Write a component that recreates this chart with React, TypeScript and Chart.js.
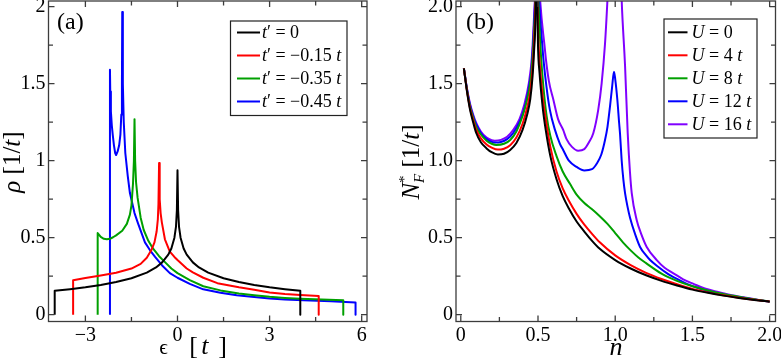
import React, { useEffect, useRef } from "react";
import { Chart, registerables } from "chart.js";

Chart.register(...registerables);

const SERIF = "'Liberation Serif', 'Times New Roman', Times, serif";

// ---------------- Panel (a): density of states rho(eps) ----------------
const tPrimeValues = ["0", "−0.15", "−0.35", "−0.45"];
const colorsA = ["#000000", "#ff0000", "#00a000", "#0000ff"];

const epsT0 = [-4, -4, -3.5, -3, -2.5, -2, -1.5, -1, -0.7, -0.5, -0.3, -0.2, -0.1, -0.05, -0.02, 0, 0.02, 0.05, 0.1, 0.2, 0.3, 0.5, 0.7, 1, 1.5, 2, 2.5, 3, 3.5, 4, 4];
const rhoT0 = [0, 0.156, 0.166, 0.178, 0.193, 0.212, 0.237, 0.273, 0.307, 0.34, 0.39, 0.43, 0.5, 0.57, 0.68, 0.938, 0.68, 0.57, 0.5, 0.43, 0.39, 0.34, 0.307, 0.273, 0.237, 0.212, 0.193, 0.178, 0.166, 0.156, 0];

const epsT15 = [-3.4, -3.4, -3, -2.5, -2, -1.5, -1.2, -1, -0.85, -0.75, -0.68, -0.64, -0.62, -0.6, -0.58, -0.55, -0.51, -0.41, -0.25, -0.1, 0, 0.3, 0.5, 0.84, 1.3, 2, 2.5, 3, 3.5, 4, 4.6, 4.6];
const rhoT15 = [0, 0.224, 0.238, 0.255, 0.272, 0.3, 0.33, 0.37, 0.42, 0.47, 0.54, 0.62, 0.72, 0.985, 0.75, 0.66, 0.6, 0.49, 0.41, 0.375, 0.355, 0.3, 0.275, 0.24, 0.205, 0.178, 0.162, 0.145, 0.135, 0.128, 0.121, 0];

const epsT35 = [-2.6, -2.6, -2.5, -2.4, -2.3, -2.2, -2.1, -2, -1.8, -1.65, -1.55, -1.5, -1.45, -1.42, -1.4, -1.38, -1.35, -1.3, -1.2, -1.1, -0.95, -0.8, -0.6, -0.4, -0.2, 0, 0.4, 0.84, 1.4, 2, 2.5, 3, 3.5, 4, 4.7, 5.4, 5.4];
const rhoT35 = [0, 0.53, 0.505, 0.493, 0.49, 0.493, 0.503, 0.515, 0.545, 0.59, 0.65, 0.71, 0.85, 1.0, 1.27, 1.0, 0.86, 0.76, 0.63, 0.55, 0.48, 0.43, 0.38, 0.34, 0.3, 0.27, 0.225, 0.185, 0.158, 0.138, 0.126, 0.116, 0.109, 0.104, 0.099, 0.094, 0];

const epsT45 = [-2.2, -2.2, -2.19, -2.17, -2.14, -2.11, -2.07, -2.03, -2, -1.95, -1.9, -1.86, -1.83, -1.81, -1.8, -1.78, -1.75, -1.7, -1.62, -1.55, -1.4, -1.28, -1.06, -0.9, -0.73, -0.5, -0.25, 0, 0.4, 0.84, 1.4, 1.93, 2.5, 3, 3.5, 4.1, 5, 5.8, 5.8];
const rhoT45 = [0, 1.59, 1.45, 1.32, 1.23, 1.17, 1.1, 1.05, 1.037, 1.06, 1.1, 1.17, 1.3, 1.5, 1.966, 1.5, 1.25, 1.05, 0.9, 0.79, 0.66, 0.59, 0.47, 0.42, 0.375, 0.32, 0.27, 0.24, 0.2, 0.165, 0.142, 0.127, 0.115, 0.105, 0.099, 0.094, 0.087, 0.08, 0];

const ticksAx = [-3, 0, 3, 6];
const labelsAx = ["−3", "0", "3", "6"];
const minorAx = [-1.5, 1.5, 4.5];
const ticksAy = [0, 0.5, 1, 1.5, 2];
const labelsAy = ["0", "0.5", "1", "1.5", "2"];
const minorAy = [0.25, 0.75, 1.25, 1.75];

// ---------------- Panel (b): N*_F(n) ----------------
const uValues = ["0", "4", "8", "12", "16"];
const colorsB = ["#000000", "#ff0000", "#00a000", "#0000ff", "#8000ff"];

const nU0 = [0.02, 0.04, 0.06, 0.08, 0.1, 0.13, 0.167, 0.2, 0.24, 0.28, 0.32, 0.36, 0.4, 0.43, 0.45, 0.465, 0.475, 0.483, 0.49, 0.5, 0.51, 0.53, 0.55, 0.58, 0.62, 0.66, 0.7, 0.75, 0.8, 0.85, 0.9, 1.0, 1.1, 1.2, 1.3, 1.4, 1.5, 1.6, 1.7, 1.8, 1.9, 2.0];
const nfU0 = [1.6, 1.45, 1.33, 1.25, 1.18, 1.12, 1.08, 1.055, 1.04, 1.045, 1.07, 1.115, 1.2, 1.3, 1.4, 1.55, 1.72, 1.9, 2.4, 1.75, 1.57, 1.35, 1.2, 1.03, 0.88, 0.77, 0.69, 0.605, 0.54, 0.48, 0.428, 0.355, 0.3, 0.256, 0.22, 0.19, 0.163, 0.142, 0.124, 0.109, 0.096, 0.085];

const nU4 = nU0;
const nfU4 = [1.6, 1.455, 1.34, 1.265, 1.2, 1.145, 1.105, 1.085, 1.072, 1.078, 1.1, 1.15, 1.24, 1.345, 1.45, 1.6, 1.78, 1.98, 2.4, 1.85, 1.65, 1.42, 1.27, 1.09, 0.93, 0.82, 0.74, 0.655, 0.585, 0.525, 0.47, 0.385, 0.322, 0.272, 0.232, 0.198, 0.168, 0.145, 0.126, 0.11, 0.097, 0.086];

const nU8 = [0.02, 0.04, 0.06, 0.08, 0.1, 0.13, 0.167, 0.2, 0.23, 0.28, 0.32, 0.36, 0.4, 0.43, 0.45, 0.465, 0.475, 0.483, 0.49, 0.5, 0.517, 0.535, 0.556, 0.58, 0.62, 0.66, 0.707, 0.75, 0.8, 0.85, 0.9, 0.95, 1.0, 1.05, 1.1, 1.15, 1.2, 1.3, 1.4, 1.5, 1.6, 1.7, 1.8, 1.9, 2.0];
const nfU8 = [1.6, 1.46, 1.35, 1.28, 1.22, 1.17, 1.13, 1.11, 1.102, 1.11, 1.135, 1.19, 1.29, 1.4, 1.51, 1.67, 1.85, 2.05, 2.45, 2.1, 1.72, 1.48, 1.29, 1.16, 1.03, 0.93, 0.85, 0.78, 0.725, 0.685, 0.64, 0.59, 0.53, 0.47, 0.418, 0.372, 0.335, 0.267, 0.22, 0.185, 0.158, 0.135, 0.117, 0.1, 0.086];

const nU12 = [0.02, 0.04, 0.06, 0.08, 0.1, 0.13, 0.167, 0.2, 0.22, 0.26, 0.3, 0.34, 0.38, 0.41, 0.44, 0.46, 0.475, 0.485, 0.492, 0.5, 0.53, 0.555, 0.577, 0.61, 0.642, 0.663, 0.7, 0.75, 0.8, 0.85, 0.88, 0.91, 0.934, 0.95, 0.966, 0.98, 0.992, 1.0, 1.014, 1.025, 1.031, 1.042, 1.053, 1.064, 1.08, 1.096, 1.13, 1.161, 1.2, 1.226, 1.28, 1.334, 1.4, 1.464, 1.55, 1.615, 1.7, 1.809, 1.9, 2.0];
const nfU12 = [1.6, 1.465, 1.36, 1.29, 1.235, 1.18, 1.14, 1.122, 1.118, 1.122, 1.14, 1.18, 1.25, 1.33, 1.47, 1.62, 1.9, 2.15, 2.5, 2.2, 1.72, 1.48, 1.33, 1.2, 1.11, 1.07, 1.0, 0.96, 0.937, 0.945, 0.98, 1.04, 1.134, 1.22, 1.35, 1.48, 1.578, 1.53, 1.394, 1.25, 1.178, 1.0, 0.875, 0.788, 0.7, 0.63, 0.52, 0.44, 0.385, 0.355, 0.31, 0.27, 0.232, 0.2, 0.168, 0.149, 0.13, 0.113, 0.098, 0.085];

const nU16 = [0.02, 0.04, 0.06, 0.08, 0.1, 0.13, 0.167, 0.2, 0.22, 0.26, 0.3, 0.34, 0.38, 0.41, 0.44, 0.46, 0.475, 0.485, 0.492, 0.5, 0.545, 0.57, 0.6, 0.63, 0.663, 0.685, 0.72, 0.76, 0.8, 0.83, 0.858, 0.89, 0.912, 0.934, 0.95, 0.975, 1.0, 1.025, 1.042, 1.064, 1.081, 1.096, 1.107, 1.139, 1.17, 1.204, 1.269, 1.32, 1.377, 1.44, 1.507, 1.58, 1.66, 1.74, 1.83, 1.92, 2.0];
const nfU16 = [1.6, 1.47, 1.37, 1.3, 1.245, 1.19, 1.15, 1.133, 1.13, 1.135, 1.155, 1.2, 1.27, 1.36, 1.5, 1.67, 1.95, 2.2, 2.6, 2.3, 1.72, 1.52, 1.394, 1.27, 1.2, 1.14, 1.09, 1.065, 1.075, 1.12, 1.178, 1.33, 1.5, 1.76, 2.05, 2.6, 3.0, 2.6, 2.04, 1.61, 1.178, 0.92, 0.79, 0.615, 0.52, 0.44, 0.355, 0.305, 0.269, 0.23, 0.2, 0.17, 0.149, 0.13, 0.113, 0.098, 0.085];

const ticksBx = [0, 0.5, 1, 1.5, 2];
const labelsBx = ["0", "0.5", "1.0", "1.5", "2.0"];
const minorBx = [0.25, 0.75, 1.25, 1.75];
const ticksBy = [0, 0.5, 1, 1.5, 2];
const labelsBy = ["0", "0.5", "1.0", "1.5", "2.0"];
const minorBy = [0.25, 0.75, 1.25, 1.75];

// ---------------- drawing helpers ----------------
type Seg = { t: string; it?: boolean; size?: number; dy?: number; w?: number };

function segFont(s: Seg, base: number) {
  return `${s.it ? "italic " : ""}${s.size ?? base}px ${SERIF}`;
}

function drawSegs(ctx: CanvasRenderingContext2D, segs: Seg[], x: number, y: number, base: number, align: "left" | "center") {
  ctx.textAlign = "left";
  const widths = segs.map((s) => {
    ctx.font = segFont(s, base);
    return s.w !== undefined ? s.w : ctx.measureText(s.t).width;
  });
  const total = widths.reduce((a, b) => a + b, 0);
  let cx = align === "center" ? x - total / 2 : x;
  segs.forEach((s, i) => {
    ctx.font = segFont(s, base);
    ctx.fillText(s.t, cx, y + (s.dy ?? 0));
    cx += widths[i];
  });
}

type LegendRow = { segs: Seg[]; color: string };
type Overlay = {
  xMajor: number[];
  xMinor: number[];
  yMajor: number[];
  yMinor: number[];
  panel: { text: string; x: number; y: number };
  xTitle: { segs: Seg[]; x: number; y: number; size: number };
  yTitle: { segs: Seg[]; x: number; y: number; size: number };
  legend: {
    left: number; top: number; right: number; bottom: number;
    firstRow: number; rowStep: number; lineX0: number; lineX1: number; textX: number; size: number;
    rows: LegendRow[];
  };
};

function overlayPlugin(o: Overlay) {
  return {
    id: "overlay",
    afterDatasetsDraw(chart: any) {
      const ctx: CanvasRenderingContext2D = chart.ctx;
      const a = chart.chartArea;
      const xs = chart.scales.x;
      const ys = chart.scales.y;
      ctx.save();
      // frame
      ctx.strokeStyle = "#3c3c3c";
      ctx.lineWidth = 1.3;
      ctx.strokeRect(a.left, a.top, a.right - a.left, a.bottom - a.top);
      // ticks on all four sides, pointing inward
      ctx.beginPath();
      const seg = (x1: number, y1: number, x2: number, y2: number) => {
        ctx.moveTo(x1, y1);
        ctx.lineTo(x2, y2);
      };
      const xt = (vals: number[], len: number) =>
        vals.forEach((v) => {
          const p = xs.getPixelForValue(v);
          seg(p, a.bottom, p, a.bottom - len);
          seg(p, a.top, p, a.top + len);
        });
      const yt = (vals: number[], len: number) =>
        vals.forEach((v) => {
          const p = ys.getPixelForValue(v);
          seg(a.left, p, a.left + len, p);
          seg(a.right, p, a.right - len, p);
        });
      xt(o.xMajor, 6);
      xt(o.xMinor, 4.5);
      yt(o.yMajor, 6);
      yt(o.yMinor, 4.5);
      ctx.stroke();

      ctx.fillStyle = "#000";
      ctx.textBaseline = "alphabetic";
      // panel label
      ctx.font = `24px ${SERIF}`;
      ctx.textAlign = "left";
      ctx.fillText(o.panel.text, o.panel.x, o.panel.y);
      // axis titles
      drawSegs(ctx, o.xTitle.segs, o.xTitle.x, o.xTitle.y, o.xTitle.size, "center");
      ctx.save();
      ctx.translate(o.yTitle.x, o.yTitle.y);
      ctx.rotate(-Math.PI / 2);
      drawSegs(ctx, o.yTitle.segs, 0, 0, o.yTitle.size, "center");
      ctx.restore();

      // legend
      const L = o.legend;
      ctx.fillStyle = "#fff";
      ctx.fillRect(L.left, L.top, L.right - L.left, L.bottom - L.top);
      ctx.strokeStyle = "#222";
      ctx.lineWidth = 1.2;
      ctx.strokeRect(L.left, L.top, L.right - L.left, L.bottom - L.top);
      L.rows.forEach((r, i) => {
        const yy = L.firstRow + i * L.rowStep;
        ctx.strokeStyle = r.color;
        ctx.lineWidth = 2;
        ctx.beginPath();
        ctx.moveTo(L.lineX0, yy);
        ctx.lineTo(L.lineX1, yy);
        ctx.stroke();
        ctx.fillStyle = "#000";
        ctx.textBaseline = "middle";
        drawSegs(ctx, r.segs, L.textX, yy + 1, L.size, "left");
      });
      ctx.restore();
    },
  };
}

type Series = { xs: number[]; ys: number[]; color: string };

function zeroPadding(axis: any) {
  axis.paddingTop = 0;
  axis.paddingBottom = 0;
  axis.paddingLeft = 0;
  axis.paddingRight = 0;
}

function makeConfig(opts: {
  series: Series[];
  xMin: number; xMax: number; yMin: number; yMax: number;
  xTicks: number[]; xLabels: string[]; yTicks: number[]; yLabels: string[];
  yAxisWidth: number; padRight: number; smooth: boolean; overlay: Overlay;
}): any {
  const findLabel = (vals: number[], labels: string[], v: number) => {
    const i = vals.findIndex((t) => Math.abs(t - v) < 1e-9);
    return i >= 0 ? labels[i] : "";
  };
  return {
    type: "line",
    data: {
      datasets: opts.series.map((s) => ({
        data: s.xs.map((x, i) => ({ x, y: s.ys[i] })),
        borderColor: s.color,
        backgroundColor: s.color,
        borderWidth: 2,
        pointRadius: 0,
        fill: false,
        tension: 0,
        cubicInterpolationMode: opts.smooth ? "monotone" : "default",
        borderJoinStyle: "round",
      })),
    },
    options: {
      animation: false,
      responsive: false,
      devicePixelRatio: 1,
      events: [],
      layout: { padding: { top: 1, right: opts.padRight, left: 0, bottom: 0 } },
      plugins: { legend: { display: false }, tooltip: { enabled: false }, title: { display: false } },
      scales: {
        x: {
          type: "linear",
          min: opts.xMin,
          max: opts.xMax,
          grid: { display: false, drawTicks: false },
          border: { display: false },
          afterBuildTicks: (axis: any) => {
            axis.ticks = opts.xTicks.map((v) => ({ value: v }));
          },
          afterFit: (axis: any) => {
            axis.height = 40.5;
            zeroPadding(axis);
          },
          ticks: {
            autoSkip: false,
            maxRotation: 0,
            padding: 2,
            color: "#000",
            font: { family: SERIF, size: 20 },
            callback: (v: number) => findLabel(opts.xTicks, opts.xLabels, v),
          },
        },
        y: {
          type: "linear",
          min: opts.yMin,
          max: opts.yMax,
          grid: { display: false, drawTicks: false },
          border: { display: false },
          afterBuildTicks: (axis: any) => {
            axis.ticks = opts.yTicks.map((v) => ({ value: v }));
          },
          afterFit: (axis: any) => {
            axis.width = opts.yAxisWidth;
            zeroPadding(axis);
          },
          ticks: {
            autoSkip: false,
            padding: 3,
            color: "#000",
            font: { family: SERIF, size: 20 },
            callback: (v: number) => findLabel(opts.yTicks, opts.yLabels, v),
          },
        },
      },
    },
    plugins: [overlayPlugin(opts.overlay)],
  };
}

export default function App() {
  const refA = useRef<HTMLCanvasElement>(null);
  const refB = useRef<HTMLCanvasElement>(null);

  useEffect(() => {
    const seriesA: Series[] = [
      { xs: epsT0, ys: rhoT0, color: colorsA[0] },
      { xs: epsT15, ys: rhoT15, color: colorsA[1] },
      { xs: epsT35, ys: rhoT35, color: colorsA[2] },
      { xs: epsT45, ys: rhoT45, color: colorsA[3] },
    ];
    const seriesB: Series[] = [
      { xs: nU0, ys: nfU0, color: colorsB[0] },
      { xs: nU4, ys: nfU4, color: colorsB[1] },
      { xs: nU8, ys: nfU8, color: colorsB[2] },
      { xs: nU12, ys: nfU12, color: colorsB[3] },
      { xs: nU16, ys: nfU16, color: colorsB[4] },
    ];

    const legendRowsA: LegendRow[] = tPrimeValues.map((v, i) => ({
      color: colorsA[i],
      segs: v === "0"
        ? [{ t: "t", it: true }, { t: "′ = 0" }]
        : [{ t: "t", it: true }, { t: `′ = ${v} ` }, { t: "t", it: true }],
    }));
    const legendRowsB: LegendRow[] = uValues.map((v, i) => ({
      color: colorsB[i],
      segs: v === "0"
        ? [{ t: "U", it: true }, { t: " = 0" }]
        : [{ t: "U", it: true }, { t: ` = ${v} ` }, { t: "t", it: true }],
    }));

    const chartA = new Chart(
      refA.current as HTMLCanvasElement,
      makeConfig({
        series: seriesA,
        xMin: -4.202, xMax: 6.173, yMin: -0.044, yMax: 2.037,
        xTicks: ticksAx, xLabels: labelsAx, yTicks: ticksAy, yLabels: labelsAy,
        yAxisWidth: 48.5, padRight: 23, smooth: false,
        overlay: {
          xMajor: ticksAx, xMinor: minorAx, yMajor: ticksAy, yMinor: minorAy,
          panel: { text: "(a)", x: 57, y: 29 },
          xTitle: {
            segs: [{ t: "ϵ", size: 21, w: 30 }, { t: "[", w: 12 }, { t: "t", it: true, w: 17 }, { t: "]" }],
            x: 193, y: 354, size: 26,
          },
          yTitle: {
            segs: [{ t: "ρ", it: true }, { t: " [1/" }, { t: "t", it: true }, { t: "]" }],
            x: 20, y: 162, size: 25,
          },
          legend: {
            left: 230.5, top: 21, right: 347, bottom: 115.5,
            firstRow: 32.5, rowStep: 23, lineX0: 237, lineX1: 260, textX: 262, size: 18,
            rows: legendRowsA,
          },
        },
      })
    );

    const chartB = new Chart(
      refB.current as HTMLCanvasElement,
      makeConfig({
        series: seriesB,
        xMin: -0.031, xMax: 2.038, yMin: -0.044, yMax: 2.037,
        xTicks: ticksBx, xLabels: labelsBx, yTicks: ticksBy, yLabels: labelsBy,
        yAxisWidth: 66, padRight: 5.5, smooth: true,
        overlay: {
          xMajor: ticksBx, xMinor: minorBx, yMajor: ticksBy, yMinor: minorBy,
          panel: { text: "(b)", x: 76, y: 29 },
          xTitle: { segs: [{ t: "n", it: true }], x: 226, y: 355, size: 26 },
          yTitle: {
            segs: [
              { t: "N", it: true },
              { t: "*", size: 15, dy: -10, w: 0 },
              { t: "F", it: true, size: 15, dy: 5 },
              { t: " [1/" },
              { t: "t", it: true },
              { t: "]" },
            ],
            x: 29, y: 162, size: 25,
          },
          legend: {
            left: 274, top: 19, right: 367, bottom: 138,
            firstRow: 32.3, rowStep: 23, lineX0: 278, lineX1: 297.5, textX: 301.5, size: 18,
            rows: legendRowsB,
          },
        },
      })
    );

    return () => {
      chartA.destroy();
      chartB.destroy();
    };
  }, []);

  return (
    <div style={{ position: "absolute", left: 0, top: 0, width: 781, height: 362, background: "#fff", overflow: "hidden" }}>
      <canvas ref={refA} width={390} height={362} style={{ position: "absolute", left: 0, top: 0, width: 390, height: 362 }} />
      <canvas ref={refB} width={391} height={362} style={{ position: "absolute", left: 390, top: 0, width: 391, height: 362 }} />
    </div>
  );
}
